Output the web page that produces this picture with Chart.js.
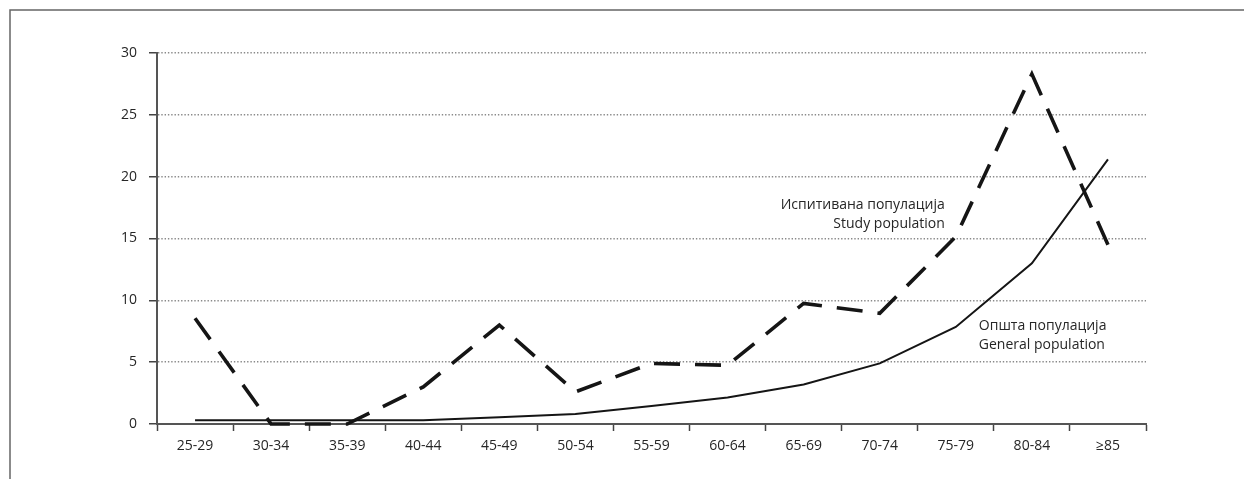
<!DOCTYPE html>
<html>
<head>
<meta charset="utf-8">
<script src="https://cdn.jsdelivr.net/npm/chart.js@4"></script>
<style>
  html, body { margin: 0; padding: 0; background: #fff; }
  #wrap { width: 1244px; height: 479px; position: relative; }
</style>
</head>
<body>
<div id="wrap"><canvas id="c" width="1244" height="479"></canvas></div>
<script>
// Age groups on the x axis
const ageGroups = ['25-29', '30-34', '35-39', '40-44', '45-49', '50-54', '55-59',
                   '60-64', '65-69', '70-74', '75-79', '80-84', '≥85'];

// Study population (dashed line)
const studyPopulation = [8.55, 0, 0, 3.0, 8.0, 2.6, 4.9, 4.75, 9.75, 8.95, 15.15, 28.3, 14.5];

// General population (solid line)
const generalPopulation = [0.3, 0.3, 0.3, 0.3, 0.55, 0.8, 1.45, 2.15, 3.2, 4.9, 7.85, 13.0, 21.4];

// Y axis ticks
const yTicks = [0, 5, 10, 15, 20, 25, 30];

// Inline labels for the two series
const studyLabel = ['Испитивана популација', 'Study population'];
const generalLabel = ['Општа популација', 'General population'];

const FONT = '"Open Sans", "Noto Sans", sans-serif';
const TEXT = '#262626';

// Frame around the figure (left and top edges)
const framePlugin = {
  id: 'frame',
  beforeDraw(chart) {
    const ctx = chart.ctx;
    ctx.save();
    ctx.strokeStyle = '#666';
    ctx.lineWidth = 1.5;
    ctx.beginPath();
    ctx.moveTo(10, 479);
    ctx.lineTo(10, 10);
    ctx.lineTo(1244, 10);
    ctx.stroke();
    ctx.restore();
  }
};

// Series captions placed next to their lines
const captionPlugin = {
  id: 'captions',
  afterDatasetsDraw(chart) {
    const ctx = chart.ctx;
    const x = chart.scales.x, y = chart.scales.y;
    ctx.save();
    ctx.fillStyle = TEXT;
    ctx.font = '14px ' + FONT;
    ctx.textBaseline = 'middle';

    // study population caption: right-aligned, left of the 75-79 point
    ctx.textAlign = 'right';
    const sx = x.getPixelForValue(10) - 11;
    const sy = y.getPixelForValue(17.7);
    ctx.fillText(studyLabel[0], sx, sy);
    ctx.fillText(studyLabel[1], sx, sy + 19);

    // general population caption: left-aligned, right of the 75-79 point
    ctx.textAlign = 'left';
    const gx = x.getPixelForValue(10) + 23;
    const gy = y.getPixelForValue(7.95);
    ctx.fillText(generalLabel[0], gx, gy);
    ctx.fillText(generalLabel[1], gx, gy + 19);
    ctx.restore();
  }
};

new Chart(document.getElementById('c'), {
  type: 'line',
  data: {
    labels: ageGroups,
    datasets: [
      {
        label: studyLabel.join(' / '),
        data: studyPopulation,
        borderColor: '#151515',
        borderWidth: 3.6,
        borderDash: [26, 15],
        borderCapStyle: 'butt',
        pointRadius: 0,
        tension: 0,
        clip: false
      },
      {
        label: generalLabel.join(' / '),
        data: generalPopulation,
        borderColor: '#151515',
        borderWidth: 2,
        pointRadius: 0,
        tension: 0,
        clip: false
      }
    ]
  },
  options: {
    responsive: false,
    animation: false,
    devicePixelRatio: 1,
    layout: { padding: { left: 0, top: 53, right: 98, bottom: 0 } },
    plugins: {
      legend: { display: false },
      tooltip: { enabled: false }
    },
    scales: {
      x: {
        offset: true,
        grid: {
          offset: true,
          drawOnChartArea: false,
          drawTicks: true,
          tickLength: 7,
          tickColor: '#444',
          tickWidth: 1.5
        },
        border: { display: true, color: '#555', width: 2 },
        ticks: {
          color: TEXT,
          font: { family: FONT, size: 14 },
          padding: 7,
          maxRotation: 0,
          autoSkip: false
        },
        afterFit(scale) { scale.height = 55; }
      },
      y: {
        min: 0,
        max: 30,
        afterBuildTicks(scale) { scale.ticks = yTicks.map(v => ({ value: v })); },
        grid: {
          color: '#8a8a8a',
          lineWidth: 1.4,
          drawTicks: true,
          tickLength: 8,
          tickColor: '#444',
          tickWidth: 1.5,
          tickBorderDash: [1, 0]
        },
        // dotted horizontal grid lines
        border: { display: true, color: '#555', width: 2, dash: [1.4, 1.9] },
        ticks: {
          color: TEXT,
          font: { family: FONT, size: 14 },
          padding: 12
        },
        afterFit(scale) { scale.width = 157; }
      }
    }
  },
  plugins: [framePlugin, captionPlugin]
});
</script>
</body>
</html>
